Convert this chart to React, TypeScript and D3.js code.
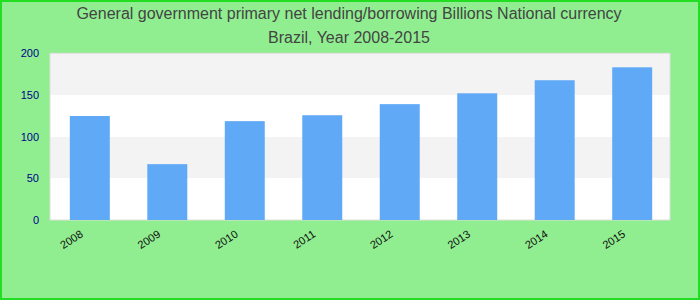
import React from "react";
import * as d3 from "d3";

const years = ["2008", "2009", "2010", "2011", "2012", "2013", "2014", "2015"];
const values = [124.8, 67, 118.6, 125.7, 139, 152, 167.7, 183.2];
const yTicks = [0, 50, 100, 150, 200];
const titleLines = [
  "General government primary net lending/borrowing Billions National currency",
  "Brazil, Year 2008-2015",
];

export default function App() {
  const W = 700, H = 300;
  const left = 50, right = 670, top = 53.3, bottom = 220;
  const x = d3.scaleBand<string>().domain(years).range([52, right]).paddingInner(0.484).paddingOuter(0.23);
  const y = d3.scaleLinear().domain([0, 200]).range([bottom, top]);
  const bands = [];
  for (let i = 0; i < yTicks.length - 1; i++) {
    bands.push({ lo: yTicks[i], hi: yTicks[i + 1], fill: i % 2 === 0 ? "#ffffff" : "#f3f3f3" });
  }
  return (
    <svg width={W} height={H} style={{ position: "absolute", left: 0, top: 0, fontFamily: "'Liberation Sans', Arial, sans-serif" }}>
      <rect x={1} y={1} width={W - 2} height={H - 2} fill="#90ee90" stroke="#22dd22" strokeWidth={2} />
      {titleLines.map((t, i) => (
        <text key={i} x={349} y={19 + i * 24} textAnchor="middle" fontSize={16} fill="#444">{t}</text>
      ))}
      <rect x={left} y={top} width={right - left} height={bottom - top} fill="#ffffff" />
      {bands.map((b, i) => (
        <rect key={i} x={left} width={right - left} y={Math.round(y(b.hi))} height={Math.round(y(b.lo)) - Math.round(y(b.hi))} fill={b.fill} />
      ))}
      <rect x={left} y={top} width={right - left} height={bottom - top} fill="none" stroke="#dddddd" strokeWidth={1} />
      {years.map((yr, i) => (
        <rect key={yr} x={x(yr)} width={x.bandwidth()} y={y(values[i])} height={y(0) - y(values[i])} fill="#60a9f6" />
      ))}
      {yTicks.map((t) => (
        <text key={t} x={39} y={y(t) + 4} textAnchor="end" fontSize={11} fill="#00008b">{t}</text>
      ))}
      {years.map((yr) => {
        const cx = (x(yr) as number) + x.bandwidth() / 2 - 6;
        return (
          <text key={yr} transform={`translate(${cx},${236}) rotate(-33)`} textAnchor="end" fontSize={11} fill="#111">{yr}</text>
        );
      })}
    </svg>
  );
}
